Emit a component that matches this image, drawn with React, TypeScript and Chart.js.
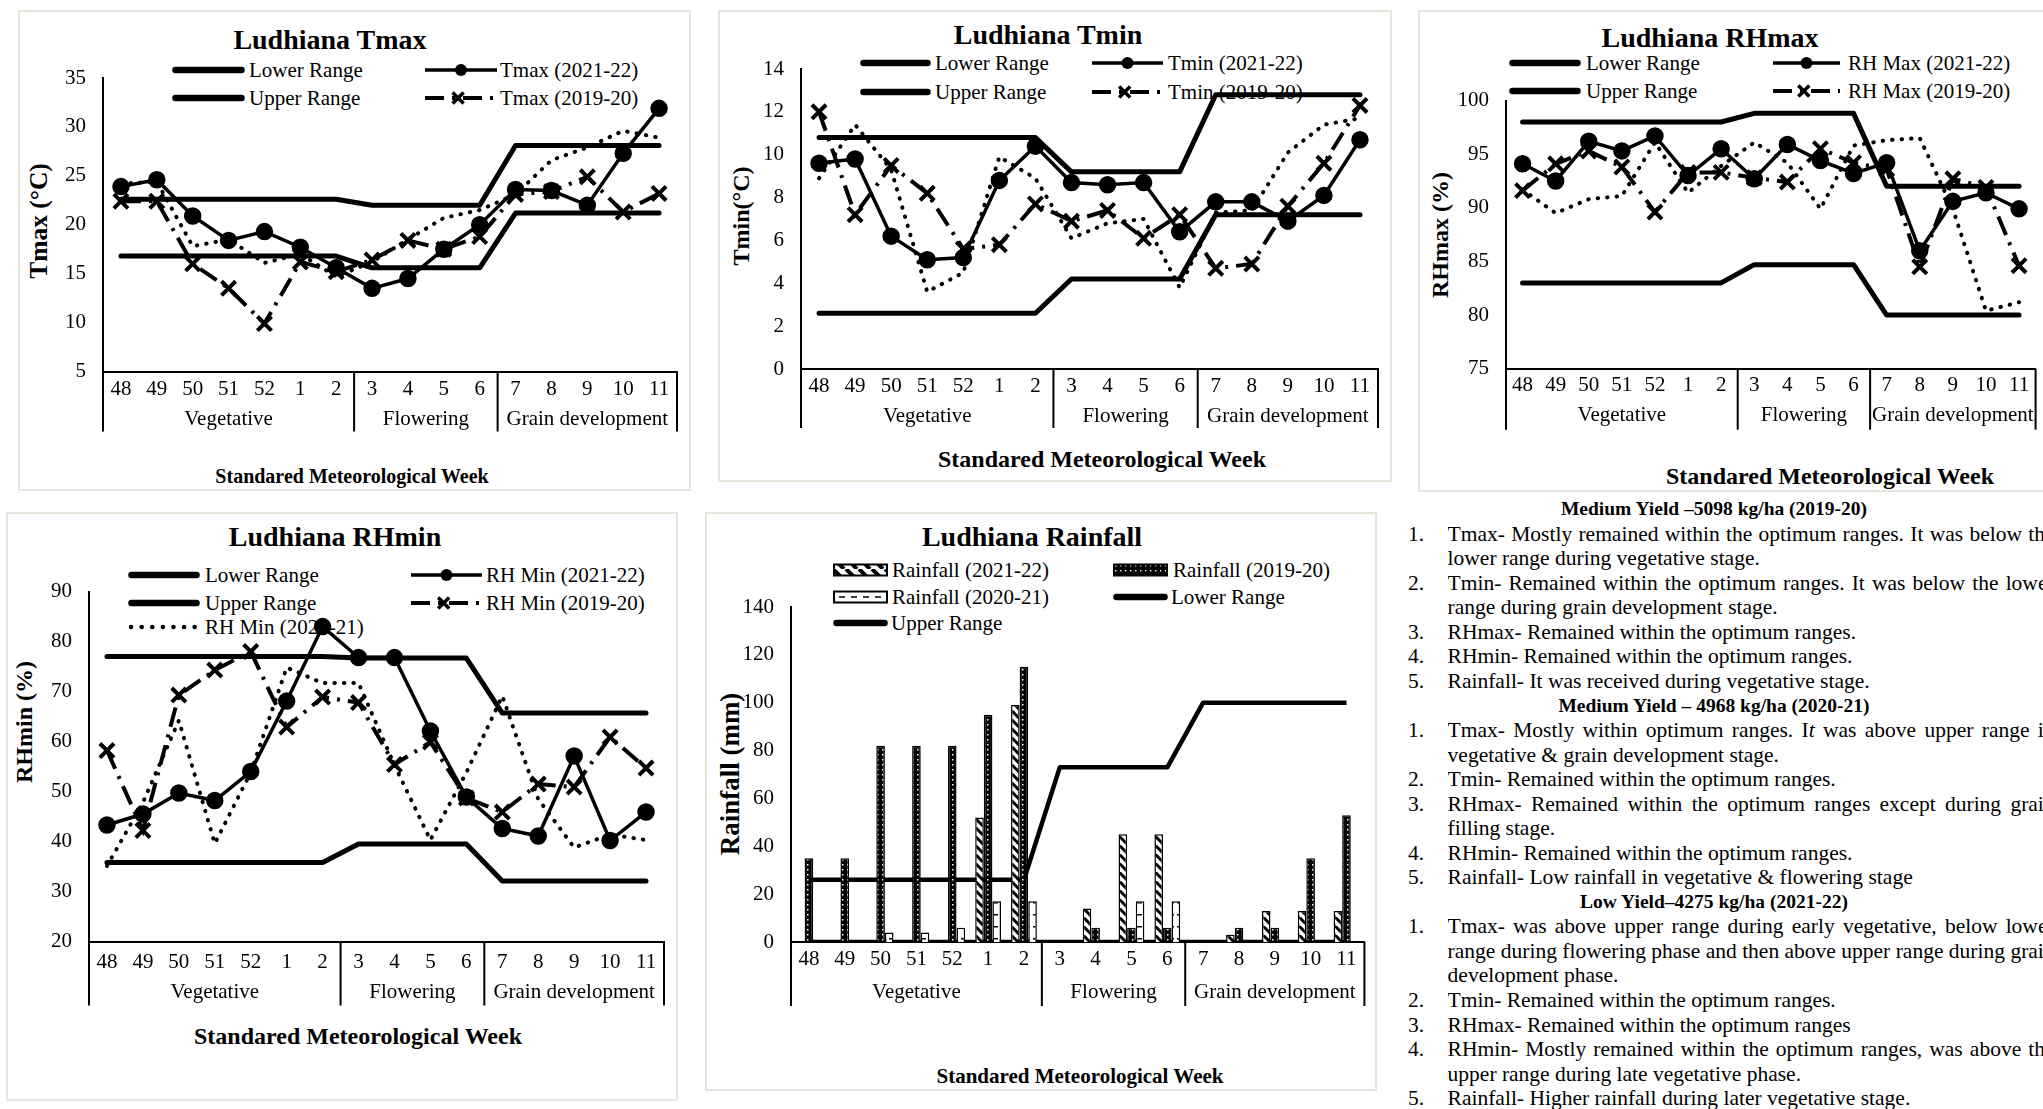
import React, { useEffect, useRef } from 'react';
import { Chart, registerables } from 'chart.js';
Chart.register(...registerables);

const SERIF = '"Liberation Serif", "Times New Roman", Times, serif';

// ---------- DATA ----------
const weeks = ['48', '49', '50', '51', '52', '1', '2', '3', '4', '5', '6', '7', '8', '9', '10', '11'];
const stageNames = ['Vegetative', 'Flowering', 'Grain development'];
const stageStarts = [0, 7, 11];

const tmaxLower = [16.8, 16.8, 16.8, 16.8, 16.8, 16.8, 16.8, 15.6, 15.6, 15.6, 15.6, 21.2, 21.2, 21.2, 21.2, 21.2];
const tmaxUpper = [22.6, 22.6, 22.6, 22.6, 22.6, 22.6, 22.6, 22.0, 22.0, 22.0, 22.0, 28.1, 28.1, 28.1, 28.1, 28.1];
const tmax2122 = [23.9, 24.6, 20.9, 18.4, 19.3, 17.7, 15.6, 13.5, 14.5, 17.5, 20.0, 23.6, 23.5, 22.0, 27.3, 31.9];
const tmax1920 = [22.4, 22.4, 16.0, 13.5, 9.9, 16.2, 15.2, 16.4, 18.4, 17.5, 18.8, 23.1, 23.4, 24.9, 21.3, 23.2];
const tmax2021 = [24.2, 24.4, 17.8, 18.5, 16.1, 17.0, 14.7, 16.2, 18.5, 20.7, 21.5, 23.1, 26.6, 27.9, 29.6, 28.9];

const tminLower = [2.6, 2.6, 2.6, 2.6, 2.6, 2.6, 2.6, 4.2, 4.2, 4.2, 4.2, 7.2, 7.2, 7.2, 7.2, 7.2];
const tminUpper = [10.8, 10.8, 10.8, 10.8, 10.8, 10.8, 10.8, 9.2, 9.2, 9.2, 9.2, 12.8, 12.8, 12.8, 12.8, 12.8];
const tmin2122 = [9.6, 9.8, 6.2, 5.1, 5.2, 8.8, 10.4, 8.7, 8.6, 8.7, 6.4, 7.8, 7.8, 6.9, 8.1, 10.7];
const tmin1920 = [12.0, 7.2, 9.5, 8.2, 5.6, 5.8, 7.7, 6.9, 7.4, 6.1, 7.2, 4.7, 4.9, 7.6, 9.6, 12.3];
const tmin2021 = [8.9, 11.4, 9.3, 3.6, 4.5, 9.9, 8.9, 6.1, 6.8, 7.0, 3.8, 7.3, 7.4, 10.1, 11.4, 11.7];

const rhmaxLower = [83, 83, 83, 83, 83, 83, 83, 84.7, 84.7, 84.7, 84.7, 80, 80, 80, 80, 80];
const rhmaxUpper = [98, 98, 98, 98, 98, 98, 98, 98.8, 98.8, 98.8, 98.8, 92, 92, 92, 92, 92];
const rhmax2122 = [94.1, 92.5, 96.2, 95.3, 96.7, 93.0, 95.5, 92.7, 95.9, 94.4, 93.2, 94.2, 86.0, 90.6, 91.4, 89.9];
const rhmax1920 = [91.6, 94.1, 95.3, 93.8, 89.6, 93.3, 93.3, 92.8, 92.4, 95.5, 94.2, 93.6, 84.5, 92.7, 91.9, 84.6];
const rhmax2021 = [91.7, 89.5, 90.8, 91.1, 96.1, 91.4, 93.9, 96.1, 94.2, 89.9, 95.8, 96.3, 96.5, 89.9, 80.4, 81.2];

const rhminLower = [35.8, 35.8, 35.8, 35.8, 35.8, 35.8, 35.8, 39.5, 39.5, 39.5, 39.5, 32.1, 32.1, 32.1, 32.1, 32.1];
const rhminUpper = [77, 77, 77, 77, 77, 77, 77, 76.7, 76.7, 76.7, 76.7, 65.7, 65.7, 65.7, 65.7, 65.7];
const rhmin2122 = [43.3, 45.5, 49.7, 48.2, 54.0, 68.1, 83.0, 76.8, 76.8, 62.1, 48.9, 42.6, 41.1, 57.1, 40.2, 45.9];
const rhmin1920 = [58.2, 42.2, 69.3, 74.3, 78.0, 62.9, 68.9, 67.8, 55.4, 59.9, 48.7, 45.9, 51.5, 50.9, 60.9, 54.7];
const rhmin2021 = [35.1, 47.8, 64.2, 39.6, 53.8, 74.8, 71.7, 71.7, 55.3, 40.3, 53.8, 69.1, 48.5, 38.8, 41.4, 40.3];

const rain2122 = [0, 0, 0, 0, 0, 52, 99, 0, 14, 45, 45, 0, 3, 13, 13, 13];
const rain1920 = [35, 35, 82, 82, 82, 95, 115, 0, 6, 6, 6, 0, 6, 6, 35, 53];
const rain2021 = [0, 0, 4, 4, 6, 17, 17, 0, 0, 17, 17, 0, 0, 0, 0, 0];
const rainLower = [0, 0, 0, 0, 0, 0, 0, 0, 0, 0, 0, 0, 0, 0, 0, 0];
const rainUpper = [26, 26, 26, 26, 26, 26, 26, 73, 73, 73, 73, 100, 100, 100, 100, 100];

// ---------- NOTES ----------
type Note = { kind: 'h' | 'l'; num?: string; text: React.ReactNode; just?: boolean };
const notes: Note[] = [
  { kind: 'h', text: 'Medium Yield –5098 kg/ha (2019-20)' },
  { kind: 'l', num: '1.', text: 'Tmax- Mostly remained within the optimum ranges. It was below the', just: true },
  { kind: 'l', text: 'lower range during vegetative stage.' },
  { kind: 'l', num: '2.', text: 'Tmin- Remained within the optimum ranges. It was below the lower', just: true },
  { kind: 'l', text: 'range during grain development stage.' },
  { kind: 'l', num: '3.', text: 'RHmax- Remained within the optimum ranges.' },
  { kind: 'l', num: '4.', text: 'RHmin- Remained within the optimum ranges.' },
  { kind: 'l', num: '5.', text: 'Rainfall- It was received during vegetative stage.' },
  { kind: 'h', text: 'Medium Yield – 4968 kg/ha (2020-21)' },
  { kind: 'l', num: '1.', text: <>Tmax- Mostly within optimum ranges. I<i>t</i> was above upper range in</>, just: true },
  { kind: 'l', text: 'vegetative & grain development stage.' },
  { kind: 'l', num: '2.', text: 'Tmin- Remained within the optimum ranges.' },
  { kind: 'l', num: '3.', text: 'RHmax- Remained within the optimum ranges except during grain', just: true },
  { kind: 'l', text: 'filling stage.' },
  { kind: 'l', num: '4.', text: 'RHmin- Remained within the optimum ranges.' },
  { kind: 'l', num: '5.', text: 'Rainfall- Low rainfall in vegetative & flowering stage' },
  { kind: 'h', text: 'Low Yield–4275 kg/ha (2021-22)' },
  { kind: 'l', num: '1.', text: 'Tmax- was above upper range during early vegetative, below lower', just: true },
  { kind: 'l', text: 'range during flowering phase and then above upper range during grain', just: true },
  { kind: 'l', text: 'development phase.' },
  { kind: 'l', num: '2.', text: 'Tmin- Remained within the optimum ranges.' },
  { kind: 'l', num: '3.', text: 'RHmax- Remained within the optimum ranges' },
  { kind: 'l', num: '4.', text: 'RHmin- Mostly remained within the optimum ranges, was above the', just: true },
  { kind: 'l', text: 'upper range during late vegetative phase.' },
  { kind: 'l', num: '5.', text: 'Rainfall- Higher rainfall during later vegetative stage.' },
];

// ---------- LAYOUT ----------
type Rect = { x: number; y: number; w: number; h: number };
type Plot = { l: number; t: number; r: number; b: number };
type LegendItem = { kind: string; sx: number; sw: number; y: number; tx: number; text: string };
type TextItem = { text: string; x: number; y: number; size: number };
type Spec = {
  id: string;
  panel: Rect;
  plot: Plot;
  catPad: number;
  stageDy: number;
  sepLen: number;
  yMin: number;
  yMax: number;
  yStep: number;
  title: TextItem;
  yTitle: TextItem;
  xTitle: TextItem;
  legend: LegendItem[];
  datasets: () => any[];
  type: 'line' | 'bar';
};

const BLACK = '#000';

function lineSets(lower: number[], upper: number[], a: number[], b: number[], c: number[] | null, names: string[]) {
  const sets: any[] = [
    { label: 'Lower Range', data: lower, borderColor: BLACK, borderWidth: 5, pointRadius: 0, borderCapStyle: 'round', borderJoinStyle: 'round' },
    { label: 'Upper Range', data: upper, borderColor: BLACK, borderWidth: 5, pointRadius: 0, borderCapStyle: 'round', borderJoinStyle: 'round' },
    { label: names[0], data: a, borderColor: BLACK, borderWidth: 3.5, pointRadius: 7, pointStyle: 'circle', pointBackgroundColor: BLACK, pointBorderColor: BLACK },
    { label: names[1], data: b, borderColor: BLACK, borderWidth: 4, borderDash: [20, 8, 3, 8], pointStyle: 'crossRot', pointRadius: 10, pointBorderWidth: 4, pointBorderColor: BLACK, pointBackgroundColor: BLACK },
  ];
  if (c) sets.push({ label: names[2], data: c, borderColor: BLACK, borderWidth: 4, borderDash: [0.5, 9], borderCapStyle: 'round', pointRadius: 0 });
  return sets;
}

function makePattern(kind: string): CanvasPattern {
  const cv = document.createElement('canvas');
  const g = cv.getContext('2d')!;
  if (kind === 'hatch') {
    cv.width = 9; cv.height = 9;
    g.fillStyle = '#fff'; g.fillRect(0, 0, 9, 9);
    g.strokeStyle = '#000'; g.lineWidth = 3;
    for (const o of [-9, 0, 9]) { g.beginPath(); g.moveTo(o, 0); g.lineTo(o + 9, 9); g.stroke(); }
  } else if (kind === 'dark') {
    cv.width = 5; cv.height = 5;
    g.fillStyle = '#000'; g.fillRect(0, 0, 5, 5);
    g.fillStyle = '#fff'; g.fillRect(2, 2, 1.5, 1.5);
  } else {
    cv.width = 8; cv.height = 12;
    g.fillStyle = '#fff'; g.fillRect(0, 0, 8, 12);
    g.fillStyle = '#000'; g.fillRect(0, 6, 5, 1.5);
  }
  return g.createPattern(cv, 'repeat')!;
}

function rainSets() {
  const bar = (label: string, data: number[], kind: string) => ({
    type: 'bar', label, data, backgroundColor: makePattern(kind), borderColor: BLACK, borderWidth: 1.5,
    categoryPercentage: 0.72, barPercentage: 1,
  });
  return [
    bar('Rainfall (2021-22)', rain2122, 'hatch'),
    bar('Rainfall (2019-20)', rain1920, 'dark'),
    bar('Rainfall (2020-21)', rain2021, 'dash'),
    { type: 'line', label: 'Lower Range', data: rainLower, borderColor: BLACK, borderWidth: 4.5, pointRadius: 0, borderJoinStyle: 'round' },
    { type: 'line', label: 'Upper Range', data: rainUpper, borderColor: BLACK, borderWidth: 4.5, pointRadius: 0, borderJoinStyle: 'round' },
  ];
}

const specs: Spec[] = [
  {
    id: 'tmax', type: 'line',
    panel: { x: 18, y: 10, w: 673, h: 481 },
    plot: { l: 103, t: 78, r: 680, b: 371.5 },
    catPad: 5, stageDy: 48, sepLen: 60,
    yMin: 5, yMax: 35, yStep: 5,
    title: { text: 'Ludhiana Tmax', x: 330, y: 40, size: 28 },
    yTitle: { text: 'Tmax (°C)', x: 39, y: 221, size: 25.5 },
    xTitle: { text: 'Standared Meteorological Week', x: 352, y: 476, size: 20 },
    legend: [
      { kind: 'range', sx: 172, sw: 73, y: 70, tx: 249, text: 'Lower Range' },
      { kind: 'circle', sx: 425, sw: 72, y: 70, tx: 500, text: 'Tmax (2021-22)' },
      { kind: 'range', sx: 172, sw: 73, y: 98, tx: 249, text: 'Upper Range' },
      { kind: 'cross', sx: 425, sw: 72, y: 98, tx: 500, text: 'Tmax (2019-20)' },
    ],
    datasets: () => lineSets(tmaxLower, tmaxUpper, tmax2122, tmax1920, tmax2021, ['Tmax (2021-22)', 'Tmax (2019-20)', 'Tmax (2020-21)']),
  },
  {
    id: 'tmin', type: 'line',
    panel: { x: 718, y: 10, w: 674, h: 472 },
    plot: { l: 801, t: 69, r: 1381, b: 369 },
    catPad: 5, stageDy: 47, sepLen: 59,
    yMin: 0, yMax: 14, yStep: 2,
    title: { text: 'Ludhiana Tmin', x: 1048, y: 35, size: 28 },
    yTitle: { text: 'Tmin(°C)', x: 741, y: 216, size: 24 },
    xTitle: { text: 'Standared Meteorological Week', x: 1102, y: 459, size: 24 },
    legend: [
      { kind: 'range', sx: 860, sw: 71, y: 63.3, tx: 935, text: 'Lower Range' },
      { kind: 'circle', sx: 1092, sw: 71, y: 63.3, tx: 1168, text: 'Tmin (2021-22)' },
      { kind: 'range', sx: 860, sw: 71, y: 91.7, tx: 935, text: 'Upper Range' },
      { kind: 'cross', sx: 1092, sw: 71, y: 91.7, tx: 1168, text: 'Tmin (2019-20)' },
    ],
    datasets: () => lineSets(tminLower, tminUpper, tmin2122, tmin1920, tmin2021, ['Tmin (2021-22)', 'Tmin (2019-20)', 'Tmin (2020-21)']),
  },
  {
    id: 'rhmax', type: 'line',
    panel: { x: 1418, y: 10, w: 640, h: 482 },
    plot: { l: 1506, t: 100.5, r: 2035.6, b: 368.7 },
    catPad: 4, stageDy: 47, sepLen: 61,
    yMin: 75, yMax: 100, yStep: 5,
    title: { text: 'Ludhiana RHmax', x: 1710, y: 38, size: 28 },
    yTitle: { text: 'RHmax (%)', x: 1440, y: 235, size: 24 },
    xTitle: { text: 'Standared Meteorological Week', x: 1830, y: 476, size: 24 },
    legend: [
      { kind: 'range', sx: 1509, sw: 72, y: 62.7, tx: 1586, text: 'Lower Range' },
      { kind: 'circle', sx: 1773, sw: 67, y: 62.7, tx: 1848, text: 'RH Max (2021-22)' },
      { kind: 'range', sx: 1509, sw: 72, y: 90.7, tx: 1586, text: 'Upper Range' },
      { kind: 'cross', sx: 1773, sw: 67, y: 90.7, tx: 1848, text: 'RH Max (2019-20)' },
    ],
    datasets: () => lineSets(rhmaxLower, rhmaxUpper, rhmax2122, rhmax1920, rhmax2021, ['RH Max (2021-22)', 'RH Max (2019-20)', 'RH Max (2020-21)']),
  },
  {
    id: 'rhmin', type: 'line',
    panel: { x: 6, y: 512, w: 672, h: 589 },
    plot: { l: 89, t: 591.6, r: 669.4, b: 941.5 },
    catPad: 8, stageDy: 51, sepLen: 64,
    yMin: 20, yMax: 90, yStep: 10,
    title: { text: 'Ludhiana RHmin', x: 335, y: 537, size: 28 },
    yTitle: { text: 'RHmin (%)', x: 23.5, y: 722, size: 24 },
    xTitle: { text: 'Standared Meteorological Week', x: 358, y: 1036, size: 24 },
    legend: [
      { kind: 'range', sx: 128, sw: 72, y: 575, tx: 205, text: 'Lower Range' },
      { kind: 'circle', sx: 411, sw: 71, y: 575, tx: 486, text: 'RH Min (2021-22)' },
      { kind: 'range', sx: 128, sw: 72, y: 603, tx: 205, text: 'Upper Range' },
      { kind: 'cross', sx: 411, sw: 71, y: 603, tx: 486, text: 'RH Min (2019-20)' },
      { kind: 'dots', sx: 128, sw: 72, y: 627, tx: 205, text: 'RH Min (2020-21)' },
    ],
    datasets: () => lineSets(rhminLower, rhminUpper, rhmin2122, rhmin1920, rhmin2021, ['RH Min (2021-22)', 'RH Min (2019-20)', 'RH Min (2020-21)']),
  },
  {
    id: 'rain', type: 'bar',
    panel: { x: 705, y: 512, w: 672, h: 579 },
    plot: { l: 791, t: 607, r: 1364.4, b: 942 },
    catPad: 5, stageDy: 50, sepLen: 64,
    yMin: 0, yMax: 140, yStep: 20,
    title: { text: 'Ludhiana Rainfall', x: 1032, y: 537, size: 28 },
    yTitle: { text: 'Rainfall (mm)', x: 730, y: 774, size: 27 },
    xTitle: { text: 'Standared Meteorological Week', x: 1080, y: 1076, size: 21 },
    legend: [
      { kind: 'hatch', sx: 833, sw: 55, y: 570, tx: 892, text: 'Rainfall (2021-22)' },
      { kind: 'dark', sx: 1113, sw: 55, y: 570, tx: 1173, text: 'Rainfall (2019-20)' },
      { kind: 'dash', sx: 833, sw: 55, y: 596.7, tx: 892, text: 'Rainfall (2020-21)' },
      { kind: 'range', sx: 1113, sw: 55, y: 596.7, tx: 1171, text: 'Lower Range' },
      { kind: 'range', sx: 833, sw: 55, y: 623.3, tx: 891, text: 'Upper Range' },
    ],
    datasets: rainSets,
  },
];

// ---------- PLUGIN: stage groups under the category axis ----------
const stagePlugin = {
  id: 'stages',
  afterDraw(chart: any, _args: any, opts: any) {
    const x = chart.scales.x;
    const ctx = chart.ctx as CanvasRenderingContext2D;
    const n = weeks.length;
    const step = x.getPixelForValue(1) - x.getPixelForValue(0);
    const bounds = [...stageStarts.map((i) => x.getPixelForValue(i) - step / 2), x.getPixelForValue(n - 1) + step / 2];
    const top = x.top;
    ctx.save();
    ctx.strokeStyle = BLACK;
    ctx.lineWidth = 2;
    bounds.forEach((b) => {
      ctx.beginPath();
      ctx.moveTo(b, top);
      ctx.lineTo(b, top + opts.sepLen);
      ctx.stroke();
    });
    ctx.fillStyle = BLACK;
    ctx.font = `21px ${SERIF}`;
    ctx.textAlign = 'center';
    ctx.textBaseline = 'middle';
    stageNames.forEach((s, i) => ctx.fillText(s, (bounds[i] + bounds[i + 1]) / 2, top + opts.stageDy));
    ctx.restore();
  },
};

function buildConfig(s: Spec): any {
  const p = s.panel;
  const plotL = s.plot.l - p.x;
  const plotT = s.plot.t - p.y;
  const plotR = s.plot.r - p.x;
  const plotB = s.plot.b - p.y;
  const tickFont = { family: SERIF, size: 21 };
  return {
    type: s.type,
    data: { labels: weeks, datasets: s.datasets() },
    options: {
      animation: false,
      responsive: false,
      devicePixelRatio: 1,
      events: [],
      layout: { padding: { left: 0, top: plotT, right: p.w - plotR, bottom: 0 } },
      elements: { line: { tension: 0 } },
      plugins: {
        legend: { display: false },
        tooltip: { enabled: false },
        title: { display: false },
        stages: { sepLen: s.sepLen, stageDy: s.stageDy },
      },
      scales: {
        x: {
          type: 'category',
          offset: true,
          grid: { display: false, drawTicks: false },
          border: { display: true, color: BLACK, width: 2 },
          ticks: { font: tickFont, color: BLACK, padding: s.catPad, autoSkip: false, maxRotation: 0, minRotation: 0 },
          afterFit: (sc: any) => { sc.height = p.h - plotB; },
        },
        y: {
          type: 'linear',
          min: s.yMin,
          max: s.yMax,
          grid: { display: false, drawTicks: false },
          border: { display: true, color: BLACK, width: 2 },
          ticks: { stepSize: s.yStep, font: tickFont, color: BLACK, padding: 17 },
          afterFit: (sc: any) => { sc.width = plotL; },
        },
      },
    },
    plugins: [stagePlugin],
  };
}

// ---------- LEGEND SAMPLES ----------
function Sample({ kind, w, id }: { kind: string; w: number; id: string }) {
  const h = 24;
  const cy = h / 2;
  if (kind === 'range') {
    return (
      <svg width={w} height={h}>
        <line x1={3.5} y1={cy} x2={w - 3.5} y2={cy} stroke={BLACK} strokeWidth={6.5} strokeLinecap="round" />
      </svg>
    );
  }
  if (kind === 'circle') {
    return (
      <svg width={w} height={h}>
        <line x1={0} y1={cy} x2={w} y2={cy} stroke={BLACK} strokeWidth={3.5} />
        <circle cx={w / 2} cy={cy} r={6} fill={BLACK} />
      </svg>
    );
  }
  if (kind === 'cross') {
    const mx = w * 0.46;
    const r = 5.5;
    return (
      <svg width={w} height={h}>
        <line x1={0} y1={cy} x2={w} y2={cy} stroke={BLACK} strokeWidth={4} strokeDasharray="19 8 3 8" />
        <line x1={mx - r} y1={cy - r} x2={mx + r} y2={cy + r} stroke={BLACK} strokeWidth={3.5} />
        <line x1={mx - r} y1={cy + r} x2={mx + r} y2={cy - r} stroke={BLACK} strokeWidth={3.5} />
      </svg>
    );
  }
  if (kind === 'dots') {
    return (
      <svg width={w} height={h}>
        <line x1={3} y1={cy} x2={w} y2={cy} stroke={BLACK} strokeWidth={4.5} strokeDasharray="0.1 10.5" strokeLinecap="round" />
      </svg>
    );
  }
  const bh = 11;
  const by = cy - bh / 2;
  const pid = `pat-${id}`;
  return (
    <svg width={w} height={h}>
      <defs>
        {kind === 'hatch' && (
          <pattern id={pid} width={13} height={11} patternUnits="userSpaceOnUse">
            <rect width={13} height={11} fill="#fff" />
            <path d="M0,0 L11,11 M-13,0 L-2,11 M13,0 L24,11" stroke={BLACK} strokeWidth={4} />
          </pattern>
        )}
        {kind === 'dark' && (
          <pattern id={pid} width={5} height={5} patternUnits="userSpaceOnUse">
            <rect width={5} height={5} fill={BLACK} />
            <rect x={2} y={2} width={1.4} height={1.4} fill="#fff" />
          </pattern>
        )}
      </defs>
      {kind === 'dash' ? (
        <>
          <rect x={1} y={by} width={w - 2} height={bh} fill="#fff" stroke={BLACK} strokeWidth={2} />
          <line x1={6} y1={cy} x2={w - 4} y2={cy} stroke={BLACK} strokeWidth={1.5} strokeDasharray="6 6" />
        </>
      ) : (
        <rect x={1} y={by} width={w - 2} height={bh} fill={`url(#${pid})`} stroke={BLACK} strokeWidth={2} />
      )}
    </svg>
  );
}

function CenterText({ t, bold, rotate }: { t: TextItem; bold?: boolean; rotate?: boolean }) {
  return (
    <div
      style={{
        position: 'absolute', left: t.x, top: t.y, whiteSpace: 'nowrap', lineHeight: 1,
        fontSize: t.size, fontWeight: bold ? 'bold' : 'normal',
        transform: `translate(-50%, -50%)${rotate ? ' rotate(-90deg)' : ''}`, zIndex: 1,
      }}
    >
      {t.text}
    </div>
  );
}

function ChartPanel({ spec }: { spec: Spec }) {
  const ref = useRef<HTMLCanvasElement>(null);
  useEffect(() => {
    const chart = new Chart(ref.current!, buildConfig(spec));
    return () => chart.destroy();
  }, [spec]);
  const p = spec.panel;
  return (
    <>
      <div
        style={{
          position: 'absolute', left: p.x, top: p.y, width: p.w, height: p.h, boxSizing: 'border-box',
          border: '2px solid #e8e5dc', background: '#fff', zIndex: 0,
        }}
      />
      <CenterText t={spec.title} bold />
      <CenterText t={spec.yTitle} bold rotate />
      <CenterText t={spec.xTitle} bold />
      {spec.legend.map((it, i) => (
        <React.Fragment key={i}>
          <div style={{ position: 'absolute', left: it.sx, top: it.y - 12, width: it.sw, height: 24, zIndex: 1, lineHeight: 0 }}>
            <Sample kind={it.kind} w={it.sw} id={`${spec.id}-${i}`} />
          </div>
          <div
            style={{
              position: 'absolute', left: it.tx, top: it.y, transform: 'translateY(-50%)', whiteSpace: 'nowrap',
              fontSize: 21, lineHeight: 1, zIndex: 1,
            }}
          >
            {it.text}
          </div>
        </React.Fragment>
      ))}
      <canvas
        ref={ref}
        width={p.w}
        height={p.h}
        style={{ position: 'absolute', left: p.x, top: p.y, width: p.w, height: p.h, zIndex: 2 }}
      />
    </>
  );
}

function Notes() {
  const top0 = 497.2;
  const lh = 24.54;
  const fs = 21.5;
  return (
    <>
      {notes.map((n, i) => {
        const y = top0 + i * lh;
        if (n.kind === 'h') {
          return (
            <div
              key={i}
              style={{
                position: 'absolute', left: 1714, top: y, transform: 'translateX(-50%)', whiteSpace: 'nowrap',
                fontWeight: 'bold', fontSize: 19.5, lineHeight: `${lh}px`,
              }}
            >
              {n.text}
            </div>
          );
        }
        return (
          <React.Fragment key={i}>
            {n.num && (
              <div style={{ position: 'absolute', left: 1408, top: y, fontSize: fs, lineHeight: `${lh}px` }}>{n.num}</div>
            )}
            <div
              style={{
                position: 'absolute', left: 1447.6, top: y, width: 607, height: lh, overflow: 'hidden',
                fontSize: fs, lineHeight: `${lh}px`,
                textAlign: n.just ? 'justify' : 'left',
                textAlignLast: n.just ? 'justify' : 'auto',
              } as React.CSSProperties}
            >
              {n.text}
            </div>
          </React.Fragment>
        );
      })}
    </>
  );
}

export default function App() {
  return (
    <div
      style={{
        position: 'absolute', left: 0, top: 0, width: 2043, height: 1109, overflow: 'hidden',
        background: '#fff', fontFamily: SERIF, color: BLACK,
      }}
    >
      {specs.map((s) => (
        <ChartPanel key={s.id} spec={s} />
      ))}
      <Notes />
    </div>
  );
}
